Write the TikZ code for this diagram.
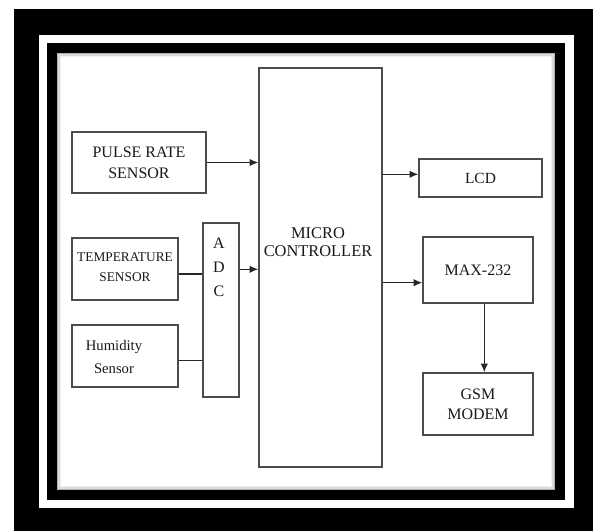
\documentclass[tikz,border=0pt]{standalone}
\usepackage{fontspec}
\setmainfont{Liberation Serif}
\usetikzlibrary{arrows.meta,calc}
\begin{document}
\begin{tikzpicture}[x=0.75pt,y=-0.75pt,
  box/.style={draw=black!70,line width=1pt,fill=white,inner sep=0pt,align=center,text=black!90},
  txt/.style={inner sep=0pt,align=center,text=black!90},
  arr/.style={draw=black!85,line width=1pt,-{Latex[length=6.5pt,width=5.5pt]}},
  ln/.style={draw=black!85,line width=1pt}]
\useasboundingbox (0,0) rectangle (593,531);
% frame
\fill[white] (0,0) rectangle (593,531);
\fill[black] (14,9) rectangle (593,531);
\fill[white] (39,35) rectangle (574,508);
\fill[black] (47,43) rectangle (565,500);
\fill[white] (57,53) rectangle (555,490);
\draw[black!30,line width=1pt] (57.7,53.7) rectangle (554.3,489.3);
\draw[black!14,line width=1pt] (59,55) rectangle (553,488);
\draw[black!6,line width=1.2pt] (60.5,56.5) rectangle (551.5,486.5);
% boxes
\node[box,minimum width=134*0.75pt,minimum height=61*0.75pt,font=\fontsize{12}{15.5}\selectfont] (pulse) at (139,162.5) {PULSE RATE\\SENSOR};
\node[box,minimum width=106*0.75pt,minimum height=62*0.75pt] (temp) at (125,269) {};
\node[txt,font=\fontsize{10}{15}\selectfont] (temptext) at (125,267) {TEMPERATURE\\SENSOR};
\node[box,minimum width=106*0.75pt,minimum height=62*0.75pt] (hum) at (125,356) {};
\node[txt,font=\fontsize{11}{17}\selectfont] (humtext) at (114,357) {Humidity\\Sensor};
\node[box,minimum width=36*0.75pt,minimum height=174*0.75pt] (adc) at (221,310) {};
\node[txt,font=\fontsize{12}{18}\selectfont] (adctext) at (219,267) {A\\D\\C};
\node[box,minimum width=123*0.75pt,minimum height=399*0.75pt] (mc) at (320.5,267.5) {};
\node[txt,font=\fontsize{12.3}{13.5}\selectfont] (mctext) at (318,242) {MICRO\\CONTROLLER};
\node[box,minimum width=123*0.75pt,minimum height=38*0.75pt,font=\fontsize{11.6}{14}\selectfont] (lcd) at (480.5,178) {LCD};
\node[box,minimum width=110*0.75pt,minimum height=66*0.75pt,font=\fontsize{12}{14}\selectfont] (max) at (478,270) {MAX-232};
\node[box,minimum width=110*0.75pt,minimum height=62*0.75pt,font=\fontsize{12}{15}\selectfont] (gsm) at (478,404) {GSM\\MODEM};
% connectors
\draw[arr] (pulse.east) -- (pulse.east -| mc.west);
\coordinate (t1) at ($(temp.east)+(0,5)$);
\draw[ln] (t1) -- (t1 -| adc.west);
\coordinate (h1) at ($(hum.east)+(0,4.7)$);
\draw[ln] (h1) -- (h1 -| adc.west);
\coordinate (a1) at ($(adc.east)+(0,-40.7)$);
\draw[arr] (a1) -- (a1 -| mc.west);
\coordinate (l1) at ($(lcd.west)+(0,-3.7)$);
\draw[arr] (l1 -| mc.east) -- (l1);
\coordinate (m1) at ($(max.west)+(0,12.7)$);
\draw[arr] (m1 -| mc.east) -- (m1);
\coordinate (g1) at ($(max.south)+(6.3,0)$);
\draw[arr] (g1) -- (g1 |- gsm.north);
\end{tikzpicture}
\end{document}
